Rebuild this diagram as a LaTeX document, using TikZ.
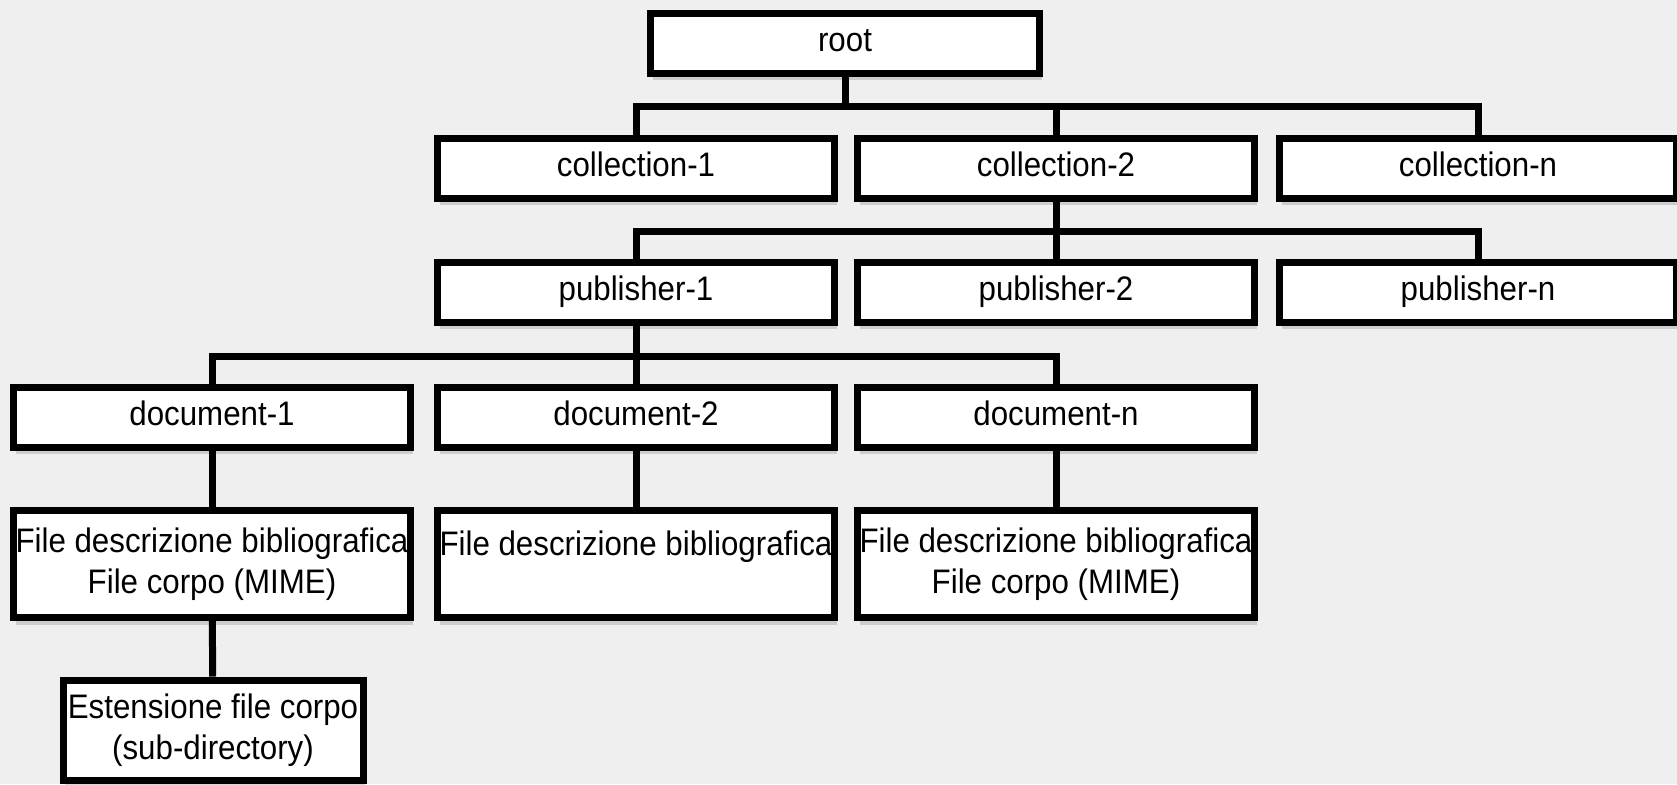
\documentclass[tikz,border=0pt]{standalone}
\usepackage{fontspec}
\setmainfont{Liberation Sans}[FakeStretch=0.92]
\usetikzlibrary{shadows}
\definecolor{figBg}{RGB}{239,239,239}

\begin{document}
\begin{tikzpicture}[x=0.5pt,y=-0.5pt,
  cell/.style={draw,fill=white,line width=3.5pt,inner sep=0pt,font=\fontsize{17}{20.5}\selectfont,
    drop shadow={shadow xshift=1pt,shadow yshift=-3.5pt,opacity=0.3}},
  box/.style={cell,minimum width=198.5pt,minimum height=30pt,text height=12pt,text depth=4pt},
  filebox/.style={cell,minimum width=198.5pt,minimum height=53.5pt,align=center},
  link/.style={line width=3.5pt}]
\useasboundingbox (0,0) rectangle (1677,784);
\clip (0,0) rectangle (1677,784);
\fill[figBg] (0,0) rectangle (1677,784);
\coordinate (j1) at (845,106); \coordinate (j2) at (1056,231); \coordinate (j3) at (636,356);
\node[box,minimum width=194.5pt] (root) at (845,43) {root};
\node[box] (c1) at (636,168) {collection-1};
\node[box] (c2) at (1056,168) {collection-2};
\node[box] (cn) at (1478,168) {collection-n};
\node[box] (p1) at (636,292) {publisher-1};
\node[box] (p2) at (1056,292) {publisher-2};
\node[box] (pn) at (1478,292) {publisher-n};
\node[box] (d1) at (212,417) {document-1};
\node[box] (d2) at (636,417) {document-2};
\node[box] (dn) at (1056,417) {document-n};
\node[filebox] (f1) at (212,564) {File descrizione bibliografica\\File corpo (MIME)};
\node[filebox] (f2) at (636,564) {File descrizione bibliografica\\\mbox{}};
\node[filebox] (fn) at (1056,564) {File descrizione bibliografica\\File corpo (MIME)};
\node[cell,minimum width=150pt,minimum height=50pt,align=center] (est) at (213,730) {Estensione file corpo\\(sub-directory)};
\draw[link] (root) -- (j1);
\draw[link] (c1) |- (j1) -| (cn);
\draw[link] (c2) -- (c2 |- j1);
\draw[link] (c2) -- (p2);
\draw[link] (p1) |- (j2) -| (pn);
\draw[link] (p1) -- (d2);
\draw[link] (d1) |- (j3) -| (dn);
\draw[link] (d1) -- (f1); \draw[link] (d2) -- (f2); \draw[link] (dn) -- (fn);
\draw[link] (f1) -- (est);
\end{tikzpicture}
\end{document}
